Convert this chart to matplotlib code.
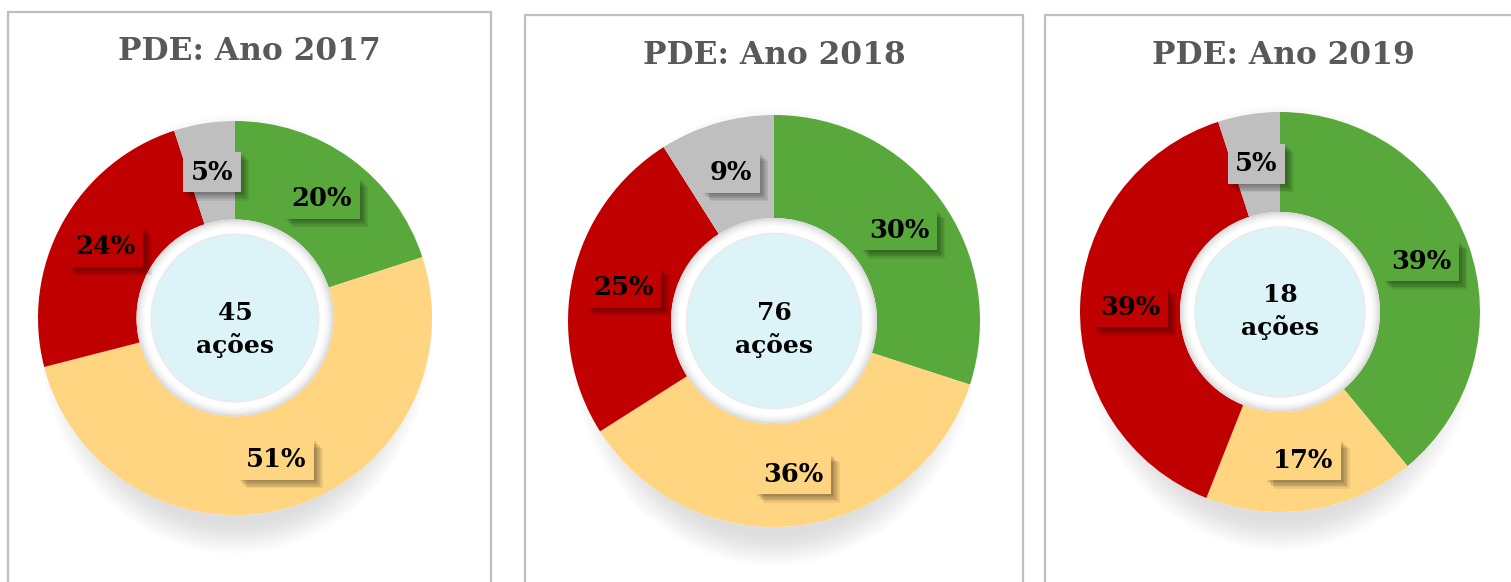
import matplotlib

matplotlib.use("Agg")
import matplotlib.pyplot as plt
import matplotlib.patheffects as pe
from matplotlib.patches import Circle, Ellipse, Rectangle

W, H = 1511, 582

# data per year (percent of actions)
YEARS = ["2017", "2018", "2019"]
CONCLUIDAS = [20, 30, 39]      # green
EM_ANDAMENTO = [51, 36, 17]    # yellow
NAO_INICIADAS = [24, 25, 39]   # red
SEM_INFO = [5, 9, 5]           # grey
TOTAL_ACOES = [45, 76, 18]

COLORS = ["#58a83b", "#ffd581", "#c00000", "#bfbfbf"]

# layout, image pixels measured from the top
CENTERS = [(235, 318), (774, 321), (1280, 312)]
RADII = [197, 206, 200]
CENTER_TEXT_DY = [11, 8, 0]
PANELS = [(8, 491, 12), (525, 1023, 15), (1045, 1520, 15)]
TITLE_POS = [(249, 52), (774, 56), (1283, 56)]

SERIF = "DejaVu Serif"

fig = plt.figure(figsize=(W / 100, H / 100), dpi=100)
fig.patch.set_facecolor("white")
ax = fig.add_axes([0, 0, 1, 1])

blur = [pe.SimplePatchShadow(offset=(o, -o), shadow_rgbFace="black", alpha=0.07)
        for o in (1, 2, 3, 4, 5, 6)]

for i, year in enumerate(YEARS):
    left, right, top = PANELS[i]
    ax.add_patch(Rectangle((left, -10), right - left, H - top + 10,
                           fc="white", ec="#bfbfbf", lw=1.6, zorder=0))
    tx, ty = TITLE_POS[i]
    ax.text(tx, H - ty, f"PDE: Ano {year}", ha="center", va="center",
            family=SERIF, fontweight="bold", fontsize=22.5, color="#595959")

    cx, cy = CENTERS[i]
    cy = H - cy
    R = RADII[i]

    # soft drop shadow, mostly below the ring
    for k in range(12):
        ax.add_patch(Ellipse((cx, cy - 16), 2 * (R - 30 + 2.6 * k),
                             2 * (R - 6 + 2.6 * k), fc="#808080",
                             ec="none", alpha=0.018, zorder=1))
    ax.add_patch(Circle((cx, cy), R, fc="white", ec="none", zorder=1.5))

    vals = [CONCLUIDAS[i], EM_ANDAMENTO[i], NAO_INICIADAS[i], SEM_INFO[i]]
    wedges, _, autotexts = ax.pie(
        vals, colors=COLORS, startangle=90, counterclock=False,
        center=(cx, cy), radius=R, frame=True,
        wedgeprops=dict(width=R * 0.5, linewidth=0),
        autopct=lambda p: f"{p:.0f}%", pctdistance=0.75,
        textprops=dict(family=SERIF, fontweight="bold", fontsize=18.5,
                       color="black"),
    )
    for w in wedges:
        w.set_zorder(2)
    for t, c in zip(autotexts, COLORS):
        t.set_zorder(5)
        t.set_bbox(dict(boxstyle="square,pad=0.3", fc=c, ec="none"))
        t.get_bbox_patch().set_path_effects(blur + [pe.Normal()])

    # hole with inner shading
    r_in = R * 0.5
    shades = ["#d9d9d9", "#e2e2e2", "#e9e9e9", "#efefef", "#f4f4f4",
              "#f8f8f8", "#fbfbfb", "#ffffff"]
    for k, sc in enumerate(shades):
        ax.add_patch(Circle((cx, cy), r_in - 1.2 * k, fc=sc, ec="none",
                            zorder=3))
    ax.add_patch(Circle((cx, cy), R * 0.425, fc="#dcf3f8", ec="#ebebeb",
                        lw=1.2, zorder=3.5))
    ax.text(cx, cy - CENTER_TEXT_DY[i], f"{TOTAL_ACOES[i]}\nações",
            ha="center", va="center", family=SERIF, fontweight="bold",
            fontsize=18, color="black", linespacing=1.4, zorder=4)

ax.set_xlim(0, W)
ax.set_ylim(0, H)
ax.set_aspect("equal")
ax.axis("off")

fig.savefig("out.png", dpi=100, facecolor="white")
